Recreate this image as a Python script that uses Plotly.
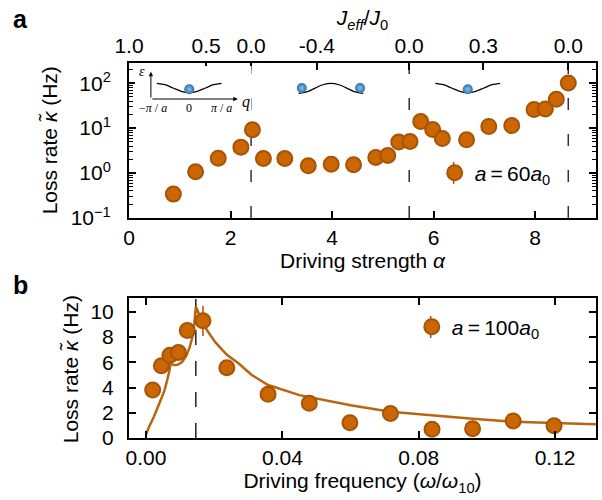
import plotly.graph_objects as go

# ---------------- data ----------------
# panel a : loss rate vs driving strength
alpha = [0.874, 1.312, 1.758, 2.204, 2.432, 2.648, 3.069, 3.532, 3.984, 4.424, 4.862, 5.098,
         5.314, 5.536, 5.747, 5.982, 6.173, 6.650, 7.088, 7.540, 7.980, 8.202, 8.418, 8.654]
loss_a = [0.34, 1.07, 2.15, 3.78, 9.2, 2.11, 2.11, 1.45, 1.58, 1.53, 2.22, 2.46,
          4.89, 5.04, 14.0, 9.31, 5.87, 5.5, 10.9, 11.4, 25.9, 26.8, 44.1, 101.6]
err_a = [0.03, 0.1, 0.2, 0.3, 0.8, 0.2, 0.2, 0.15, 0.15, 0.15, 0.2, 0.2,
         0.4, 0.4, 1.2, 0.8, 0.5, 0.5, 0.9, 0.9, 2.0, 2.0, 3.5, 8.0]
# top axis: J_eff/J_0 labels and the driving strengths where they sit
jeff_labels = ["1.0", "0.5", "0.0", "-0.4", "0.0", "0.3", "0.0"]
jeff_alpha = [0.0, 1.52, 2.405, 3.70, 5.52, 6.98, 8.654]
zero_alpha = [2.405, 5.52, 8.654]   # J_eff = 0 (dashed lines)
alpha_ticks = [0, 2, 4, 6, 8]
log_ticks = [0.1, 1, 10, 100]
log_ticktext = ["10<sup>\u22121</sup>", "10<sup>0</sup>", "10<sup>1</sup>", "10<sup>2</sup>"]
log_minor = [m * d for d in [0.1, 1, 10, 100] for m in range(2, 10)]

# panel b : loss rate vs driving frequency
freq = [0.00195, 0.0045, 0.0070, 0.0095, 0.0121, 0.0167, 0.0237, 0.0358, 0.0479, 0.0598,
        0.0717, 0.0839, 0.0958, 0.1077, 0.1197]
loss_b = [3.8, 5.73, 6.57, 6.78, 8.52, 9.29, 5.57, 3.46, 2.75, 1.21, 1.95, 0.69, 0.74, 1.35, 0.97]
err_b = [0.3, 0.3, 0.3, 0.3, 0.3, 1.2, 0.3, 0.3, 0.3, 0.3, 0.3, 0.3, 0.3, 0.3, 0.3]
fit_f = [0.0, 0.0009, 0.0023, 0.0038, 0.0053, 0.0062, 0.0069, 0.0072, 0.0075, 0.0082, 0.0092,
         0.0105, 0.0118, 0.0128, 0.0136, 0.0141, 0.0144, 0.0146, 0.0150, 0.0160, 0.0180,
         0.0203, 0.0237, 0.0272, 0.0310, 0.0358, 0.045, 0.0600, 0.0717, 0.0839, 0.0958,
         0.1077, 0.120, 0.132]
fit_k = [0.25, 0.9, 1.69, 2.61, 3.67, 4.59, 5.38, 6.0, 5.85, 5.78, 5.8, 6.0, 6.5, 7.2, 8.0,
         8.9, 9.8, 10.4, 10.2, 9.5, 8.5, 7.6, 6.6, 5.9, 5.0, 4.2, 3.4, 2.6, 2.08, 1.77, 1.52,
         1.29, 1.18, 1.1]
resonance_f = [0.0146]
freq_ticks = [0.0, 0.04, 0.08, 0.12]
freq_ticktext = ["0.00", "0.04", "0.08", "0.12"]

# schematic band dispersions for the insets (q in units of pi/a)
band_q = [-1, -0.75, -0.5, -0.25, 0, 0.25, 0.5, 0.75, 1]
band_e = [1, 0.71, 0, -0.71, -1, -0.71, 0, 0.71, 1]
band_e_inv = [-e for e in band_e]

# ---------------- styling ----------------
W, H = 602, 500
ML, MR, MT, MB = 129, 4, 63, 62
PW, PH = W - ML - MR, H - MT - MB
FONT = "Liberation Sans, Arial, sans-serif"
FS = 21
ORANGE = "#cc6600"
EDGE = "#a55408"
LINEC = "#b8650f"
BALL = "#2f6fae"
YTITLE = "Loss rate <i>\u03ba\u0303</i> (Hz)"


def pxx(x):
    return (x - ML) / PW


def pyy(y):
    return (H - MB - y) / PH


fig = go.Figure()

axis_common = dict(showline=True, linecolor="black", linewidth=2, ticks="inside",
                   ticklen=7, tickwidth=1.5, tickcolor="black", showgrid=False,
                   zeroline=False, tickfont=dict(size=FS, color="black"))

# panel a
fig.add_trace(go.Scatter(
    x=alpha, y=loss_a, mode="markers", xaxis="x", yaxis="y",
    name="<i>a</i>\u2009=\u200960<i>a</i><sub>0</sub>", legend="legend",
    error_y=dict(type="data", array=err_a, color=EDGE, thickness=1.5, width=0),
    marker=dict(size=15, color=ORANGE, line=dict(color=EDGE, width=2))))

# panel b
fig.add_trace(go.Scatter(
    x=fit_f, y=fit_k, mode="lines", xaxis="x3", yaxis="y3", showlegend=False,
    line=dict(color=LINEC, width=2.5)))
fig.add_trace(go.Scatter(
    x=freq, y=loss_b, mode="markers", xaxis="x3", yaxis="y3",
    name="<i>a</i>\u2009=\u2009100<i>a</i><sub>0</sub>", legend="legend2",
    error_y=dict(type="data", array=err_b, color=EDGE, thickness=1.5, width=0),
    marker=dict(size=15, color=ORANGE, line=dict(color=EDGE, width=2))))

# dashed resonance lines
for a0 in zero_alpha:
    fig.add_shape(type="line", xref="x", yref="y domain", x0=a0, x1=a0, y0=0, y1=1,
                  line=dict(color="#333333", width=1.5, dash="12px,24px"), layer="below")
for f0 in resonance_f:
    fig.add_shape(type="line", xref="x3", yref="y3 domain", x0=f0, x1=f0, y0=0, y1=1,
                  line=dict(color="#222222", width=1.5, dash="15px,16px"), layer="below")


# ---------------- insets ----------------
def inset(idx, dom_x, dom_y, qrange, erange, evals, balls_q, balls_e):
    xa, ya = "x%d" % idx, "y%d" % idx
    fig.add_trace(go.Scatter(x=band_q, y=evals, mode="lines", xaxis=xa, yaxis=ya,
                             line=dict(color="black", width=1.3, shape="spline"),
                             showlegend=False, hoverinfo="skip"))
    fig.add_trace(go.Scatter(x=balls_q, y=balls_e, mode="markers", xaxis=xa, yaxis=ya,
                             marker=dict(size=10, color=BALL,
                                         gradient=dict(type="radial", color="#8cc0ea"),
                                         line=dict(width=0)),
                             showlegend=False, hoverinfo="skip"))
    fig.layout["xaxis%d" % idx] = dict(domain=[pxx(dom_x[0]), pxx(dom_x[1])], range=qrange,
                                       visible=False, anchor=ya, fixedrange=True)
    fig.layout["yaxis%d" % idx] = dict(domain=[pyy(dom_y[1]), pyy(dom_y[0])], range=erange,
                                       visible=False, anchor=xa, fixedrange=True)


inset(4, (135, 252), (66, 115), [-1.677, 1.923], [-5.74, 4.68], band_e, [0], [-0.25])
inset(5, (290, 374), (75, 100), [-1.286, 1.298], [-2.34, 2.66], band_e_inv, [-0.9, 0.9], [0.05, 0.05])
inset(6, (428, 510), (75, 100), [-1.268, 1.255], [-2.55, 2.77], band_e, [0], [-0.25])

# inset 1 axes with arrows
ann = []
ann.append(dict(xref="x4", yref="y4", axref="x4", ayref="y4", x=1.5, y=-2.34, ax=-1.185, ay=-2.34,
                showarrow=True, arrowhead=2, arrowsize=0.9, arrowwidth=1, arrowcolor="black", text=""))
ann.append(dict(xref="x4", yref="y4", axref="x4", ayref="y4", x=-1.185, y=3.45, ax=-1.185, ay=-2.34,
                showarrow=True, arrowhead=2, arrowsize=0.9, arrowwidth=1, arrowcolor="black", text=""))
sfont = dict(family="Liberation Serif, serif", size=12, color="black")
ann.append(dict(xref="x4", yref="y4", x=-1.45, y=3.5, text="<i>\u03b5</i>", showarrow=False,
                font=dict(family="Liberation Serif, serif", size=14)))
ann.append(dict(xref="x4", yref="y4", x=1.74, y=-3.0, text="<i>q</i>", showarrow=False,
                font=dict(family="Liberation Serif, serif", size=16)))
ann.append(dict(xref="x4", yref="y4", x=-1.11, y=-4.3, text="\u2212<i>\u03c0</i> / <i>a</i>",
                showarrow=False, font=sfont))
ann.append(dict(xref="x4", yref="y4", x=0, y=-4.3, text="0", showarrow=False, font=sfont))
ann.append(dict(xref="x4", yref="y4", x=1.0, y=-4.3, text="<i>\u03c0</i> / <i>a</i>",
                showarrow=False, font=sfont))

# panel labels
ann.append(dict(xref="paper", yref="paper", x=pxx(20), y=pyy(19), xanchor="center", yanchor="middle",
                text="<b>a</b>", showarrow=False, font=dict(size=25, color="black")))
ann.append(dict(xref="paper", yref="paper", x=pxx(20), y=pyy(285), xanchor="center", yanchor="middle",
                text="<b>b</b>", showarrow=False, font=dict(size=25, color="black")))

# y-axis titles
ann.append(dict(xref="paper", yref="paper", x=pxx(49), y=pyy(140), xanchor="center", yanchor="middle",
                text=YTITLE, textangle=-90, showarrow=False, font=dict(size=FS, color="black")))
ann.append(dict(xref="paper", yref="paper", x=pxx(70), y=pyy(369), xanchor="center", yanchor="middle",
                text=YTITLE, textangle=-90, showarrow=False, font=dict(size=FS, color="black")))

# error-bar stroke through the legend symbols (as in the reference legend)
fig.add_shape(type="line", xref="paper", yref="paper", x0=pxx(455), x1=pxx(455),
              y0=pyy(162), y1=pyy(184), line=dict(color=EDGE, width=1.5), layer="below")
fig.add_shape(type="line", xref="paper", yref="paper", x0=pxx(432), x1=pxx(432),
              y0=pyy(316), y1=pyy(338), line=dict(color=EDGE, width=1.5), layer="below")

fig.update_layout(
    width=W, height=H, margin=dict(l=ML, r=MR, t=MT, b=MB),
    paper_bgcolor="white", plot_bgcolor="white",
    font=dict(family=FONT, size=FS, color="black"),
    annotations=ann,
    xaxis=dict(axis_common, domain=[0, 1], anchor="y", range=[0, 9.2], tickvals=alpha_ticks,
               title=dict(text="Driving strength <i>\u03b1</i>", standoff=4, font=dict(size=FS))),
    xaxis2=dict(axis_common, overlaying="x", side="top", anchor="y", range=[0, 9.2],
                tickvals=jeff_alpha, ticktext=jeff_labels,
                title=dict(text="<i>J<sub>eff</sub></i>/<i>J</i><sub>0</sub>", standoff=2,
                           font=dict(size=FS))),
    yaxis=dict(axis_common, type="log", domain=[pyy(218), 1], anchor="x", range=[-1, 2.45],
               tickvals=log_ticks, ticktext=log_ticktext, mirror="ticks", ticklabelstandoff=12,
               minor=dict(tickmode="array", tickvals=log_minor, ticks="inside", ticklen=4,
                          tickcolor="black", tickwidth=1, showgrid=False)),
    xaxis3=dict(axis_common, domain=[0, 1], anchor="y3", range=[-0.005, 0.132], mirror="ticks",
                tickvals=freq_ticks, ticktext=freq_ticktext,
                title=dict(text="Driving frequency (<i>\u03c9</i>/<i>\u03c9</i><sub>10</sub>)", standoff=4,
                           font=dict(size=FS))),
    yaxis3=dict(axis_common, domain=[0, pyy(298)], anchor="x3", range=[0, 11.1], dtick=2,
                mirror="ticks", ticklabelstandoff=9),
    legend=dict(x=pxx(436), y=pyy(173), xanchor="left", yanchor="middle", bgcolor="rgba(0,0,0,0)",
                font=dict(size=FS), itemwidth=30),
    legend2=dict(x=pxx(413), y=pyy(327), xanchor="left", yanchor="middle", bgcolor="rgba(0,0,0,0)",
                 font=dict(size=FS), itemwidth=30),
)
# invisible trace so the top J_eff axis is drawn
fig.add_trace(go.Scatter(x=[0], y=[1], xaxis="x2", yaxis="y", mode="markers",
                         marker=dict(opacity=0), showlegend=False, hoverinfo="skip"))

fig.write_html("out.html")
